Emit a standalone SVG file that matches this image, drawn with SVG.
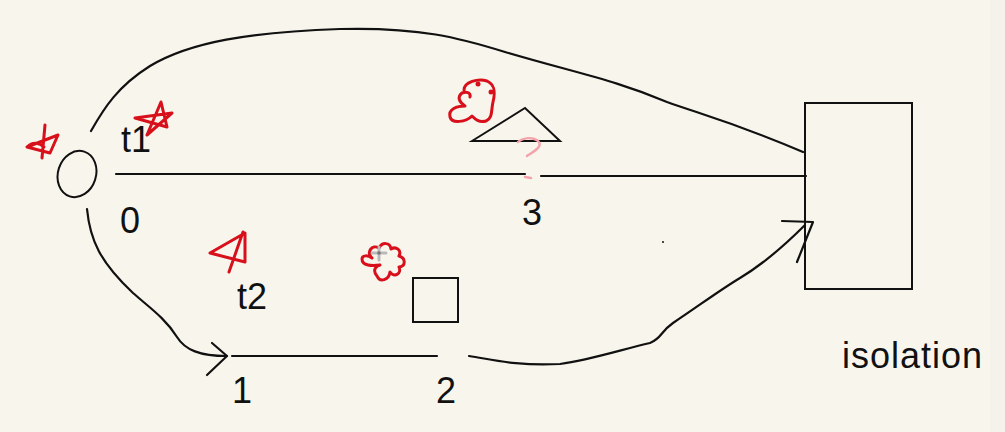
<svg xmlns="http://www.w3.org/2000/svg" width="1005" height="432" viewBox="0 0 1005 432">
<style>
.ln{fill:none;stroke:#111;stroke-width:2.2;stroke-linecap:round;stroke-linejoin:round}
.sh{fill:none;stroke:#111;stroke-width:2}
.rd{fill:none;stroke:#d7101c;stroke-width:3;stroke-linecap:round;stroke-linejoin:round}
.pk{fill:none;stroke:#f4a3aa;stroke-width:2.5;stroke-linecap:round}
.tx{font-family:"Liberation Sans",Arial,sans-serif;font-size:36px;fill:#111}
</style>
<rect width="1005" height="432" fill="#f8f6ec"/>
<rect x="990" width="15" height="432" fill="#f4f2ea"/>
<g id="connectors">
<path class="ln" d="M91,131 C104,108 118,86 150,66 C190,42 250,32 340,29 C420,27 460,38 505,52 C580,74 615,80 667,102 C700,114 733,122 803,152"/>
<path class="ln" d="M116,174 L525,174"/>
<path class="ln" d="M541,176 L806,176"/>
<path class="ln" d="M87,209 C90,240 100,262 133,293 C150,308 165,318 177,337 C185,350 200,356 227,356"/>
<path class="ln" d="M212,343 L227,356 L207,375"/>
<path class="ln" d="M232,356 L437,356"/>
<path class="ln" d="M469,356 C495,360 515,366 560,364 C590,360 620,350 650,343 C662,338 660,332 673,323 C700,305 720,290 740,278 C760,266 785,245 805,225"/>
<path class="ln" d="M782,221 L813,222 L797,262"/>
<circle cx="663" cy="242" r="1" fill="#111"/>
</g>
<g id="node-0">
<ellipse cx="77" cy="174" rx="19" ry="23.5" transform="rotate(18 77 174)" class="sh"/>
<text class="tx" x="120" y="233">0</text>
</g>
<g id="label-t1"><text class="tx" x="121" y="152">t1</text></g>
<g id="label-t2"><text class="tx" x="237" y="309">t2</text></g>
<g id="node-1"><text class="tx" x="232" y="403">1</text></g>
<g id="node-2"><text class="tx" x="436" y="403">2</text></g>
<g id="node-3"><text class="tx" x="522" y="225">3</text></g>
<g id="triangle"><polygon class="sh" points="472,141 525,108 560,141" stroke-linejoin="miter"/></g>
<g id="square"><rect class="sh" x="413" y="278" width="45" height="44"/></g>
<g id="isolation">
<rect class="sh" x="805" y="103" width="107" height="186"/>
<text class="tx" x="842" y="368" textLength="140" lengthAdjust="spacing">isolation</text>
</g>
<g id="marks">
<path class="rd" d="M45,125 L42,158 M27,147 L58,135 L50,153 L27,147 C33,141 40,143 44,147"/>
<path class="rd" d="M147,135 L161,102 L167,127 L135,118 L172,113 L147,135"/>
<path class="rd" d="M243,232 L229,272 M210,253 L245,233 L245,262 L210,253"/>
<path class="rd" d="M464,90 C464,82 478,78 487,81 C496,85 495,94 493,102 C491,110 493,118 486,121 C479,123 475,119 472,116 C466,122 452,124 450,117 C448,109 457,106 465,106 C459,102 457,97 462,93 C467,91 471,93 470,97"/>
<circle cx="478" cy="84" r="2.5" fill="#d7101c"/>
<circle cx="491" cy="92" r="2.5" fill="#d7101c"/>
<path class="rd" d="M372,258 C366,252 372,244 379,248 C382,242 390,242 391,249 C396,246 402,250 399,256 C406,258 406,266 399,267 C402,274 394,278 390,272 C389,280 380,283 377,276 C372,270 376,266 380,265 C372,266 362,266 362,259 C362,255 368,255 372,258"/>
<path d="M379,247 V260 M372,253 H386" stroke="#b9b9b9" stroke-width="3" stroke-linecap="round"/>
<circle cx="379" cy="253" r="1.8" fill="#777"/>
<path class="pk" d="M518,142 C528,134 545,140 538,148 C534,152 530,154 527,156"/>
<path class="pk" d="M525,177 L531,178"/>
</g>
</svg>
